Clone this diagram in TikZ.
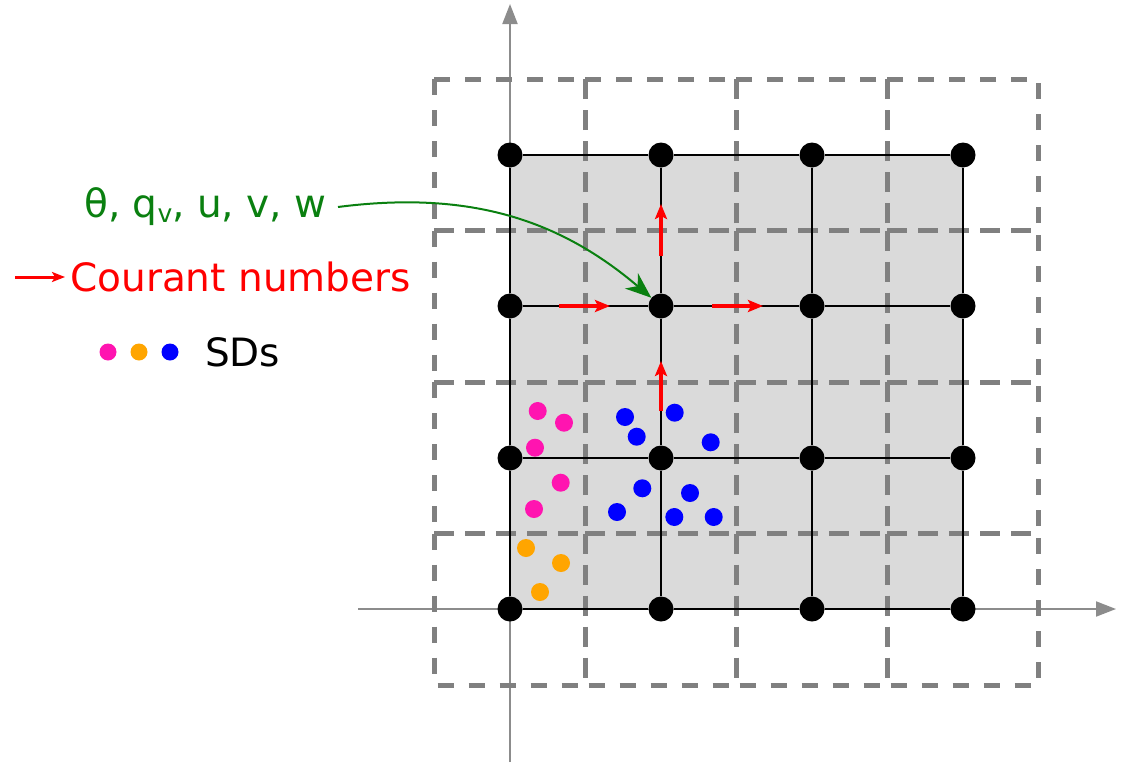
\documentclass[tikz,border=0pt]{standalone}
\usepackage{fontspec}
\setmainfont{DejaVu Sans}
\usetikzlibrary{arrows.meta}
\definecolor{cellfill}{HTML}{DADADA}
\definecolor{dashgray}{HTML}{808080}
\definecolor{axisgray}{HTML}{8C8C8C}
\definecolor{vgreen}{HTML}{0A8010}
\definecolor{sdmag}{HTML}{FF14B0}
\definecolor{sdorange}{HTML}{FFA500}
\definecolor{sdblue}{HTML}{0000FF}
\begin{document}
\begin{tikzpicture}[x=1pt,y=-1pt,
  axis/.style={draw=axisgray, line width=2pt, -{Triangle[length=20pt,width=15pt]}},
  dashbox/.style={draw=dashgray, line width=5pt, dash pattern=on 16pt off 15pt},
  gridline/.style={draw=black, line width=2.2pt},
  gpt/.style={circle, fill=black, inner sep=0pt, minimum size=25pt},
  courant/.style={draw=red, line width=3.5pt, -{Stealth[length=15pt,width=12pt,inset=3pt]}},
  varsarrow/.style={draw=vgreen, line width=2pt, -{Stealth[length=26pt,width=20pt,inset=8pt]}},
  sd/.style={circle, inner sep=0pt, minimum size=18pt},
  lbl/.style={font=\fontsize{39}{44}\selectfont, inner sep=0pt, anchor=west}
]
\useasboundingbox (0,0) rectangle (1125,763);
% axes
\coordinate (ya0) at (510,762);
\coordinate (ya1) at (510,4);
\coordinate (xa0) at (358,609);
\coordinate (xa1) at (1116,609);
\draw[axis] (ya0) -- (ya1);
\draw[axis] (xa0) -- (xa1);
% shaded domain
\fill[cellfill] (510,155) rectangle (963,609);
% dashed cells
\foreach \i in {0,...,3}{
  \foreach \j in {0,...,3}{
    \draw[dashbox] ({434+151*\i},{79+151.5*\j}) rectangle ++(151,151.5);
  }
}
% grid points
\foreach \i/\x in {0/510,1/661,2/812,3/963}{
  \foreach \j/\y in {0/155,1/306,2/458,3/609}{
    \node[gpt] (p-\i-\j) at (\x,\y) {};
  }
}
% solid grid lines
\foreach \k in {0,...,3}{
  \foreach \l [count=\m from 1] in {0,1,2}{
    \draw[gridline] (p-\k-\l) -- (p-\k-\m);
    \draw[gridline] (p-\l-\k) -- (p-\m-\k);
  }
}
% Courant number arrows
\coordinate (cu1a) at (661,256); \coordinate (cu1b) at (661,204);
\coordinate (cu2a) at (661,411); \coordinate (cu2b) at (661,361);
\coordinate (cu3a) at (559,306); \coordinate (cu3b) at (610,306);
\coordinate (cu4a) at (712,306); \coordinate (cu4b) at (763,306);
\draw[courant] (cu1a) -- (cu1b);
\draw[courant] (cu2a) -- (cu2b);
\draw[courant] (cu3a) -- (cu3b);
\draw[courant] (cu4a) -- (cu4b);
% super-droplets
\foreach \n/\x/\y in {m1/537.7/411, m2/564/422.7, m3/535/447.7, m4/560.7/482.7, m5/534/509}{
  \node[sd, fill=sdmag] (\n) at (\x,\y) {};
}
\foreach \n/\x/\y in {o1/526/548, o2/561/563, o3/540/592}{
  \node[sd, fill=sdorange] (\n) at (\x,\y) {};
}
\foreach \n/\x/\y in {b1/625/417, b2/636.7/436.7, b3/674.7/412.7, b4/710.7/442.3, b5/642.3/488.3, b6/617/512, b7/690/493, b8/674.3/517, b9/713.7/517}{
  \node[sd, fill=sdblue] (\n) at (\x,\y) {};
}
% legend
\node[lbl, text=vgreen] (vars) at (84,207) {θ, q{\fontsize{25}{28}\selectfont\raisebox{-5pt}{v}}, u, v, w};
\coordinate (vstart) at (338,207);
\draw[varsarrow] (vstart) .. controls (470,190) and (560,220) .. (p-1-1);
\coordinate (cla) at (15,277);
\coordinate (clb) at (65,277);
\draw[courant, line width=3pt, -{Stealth[length=13pt,width=10pt,inset=3pt]}] (cla) -- (clb);
\node[lbl, text=red] (cour) at (70,277) {Courant numbers};
\node[sd, fill=sdmag, minimum size=17pt] (l1) at (108,352) {};
\node[sd, fill=sdorange, minimum size=17pt] (l2) at (139,352) {};
\node[sd, fill=sdblue, minimum size=17pt] (l3) at (170,352) {};
\node[lbl, text=black] (sds) at (205,352) {SDs};
\end{tikzpicture}
\end{document}
